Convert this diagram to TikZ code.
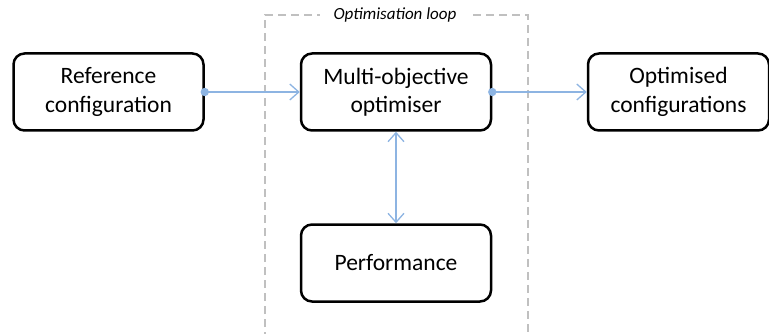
\documentclass[tikz,border=0pt]{standalone}
\usepackage{fontspec}
\setmainfont{Carlito}
\usetikzlibrary{arrows.meta}
\definecolor{linkblue}{HTML}{8DB4E2}
\definecolor{loopgray}{HTML}{C0C0C0}
\tikzset{
  block/.style={draw=black, line width=2.5pt, rounded corners=11pt, fill=white,
    minimum width=190pt, minimum height=77pt, align=center,
    font=\fontsize{23.5}{28.5}\selectfont, inner sep=0pt},
  link/.style={draw=linkblue, line width=1.3pt,
    -{Straight Barb[length=9pt, width=16pt, line width=1.3pt]}},
  dlink/.style={draw=linkblue, line width=1.3pt,
    {Straight Barb[length=9pt, width=16pt, line width=1.3pt]}-{Straight Barb[length=9pt, width=16pt, line width=1.3pt]}},
  loop/.style={draw=loopgray, line width=1.6pt, dash pattern=on 8pt off 5pt},
  looplabel/.style={fill=white, inner xsep=14pt, inner ysep=1pt,
    font=\fontsize{17}{19}\selectfont\itshape}
}
\begin{document}
\begin{tikzpicture}[x=1pt, y=-1pt]
  \useasboundingbox (0,0) rectangle (769,334);
  % dashed frame around the optimisation loop
  \coordinate (fa) at (265,340);
  \coordinate (fb) at (265,15);
  \coordinate (fc) at (528,15);
  \coordinate (fd) at (528,340);
  \draw[loop] (fa) -- (fb) -- (fc) -- (fd);
  \node[looplabel] (title) at (395,15) {Optimisation loop};
  % blocks
  \node[block] (ref)  at (108.5,92) {Reference\\configuration};
  \node[block] (moo)  at (396,92)   {Multi-objective\\optimiser};
  \node[block] (perf) at (396,263)  {Performance};
  \node[block, minimum width=181pt] (opt) at (678.5,92) {Optimised\\configurations};
  % connectors
  \draw[link] (ref.east) -- (moo.west);
  \draw[link] (moo.east) -- (opt.west);
  \draw[dlink] (moo.south) -- (perf.north);
  \fill[linkblue] (ref.east) circle (4.2pt);
  \fill[linkblue] (moo.east) circle (4.2pt);
\end{tikzpicture}
\end{document}
